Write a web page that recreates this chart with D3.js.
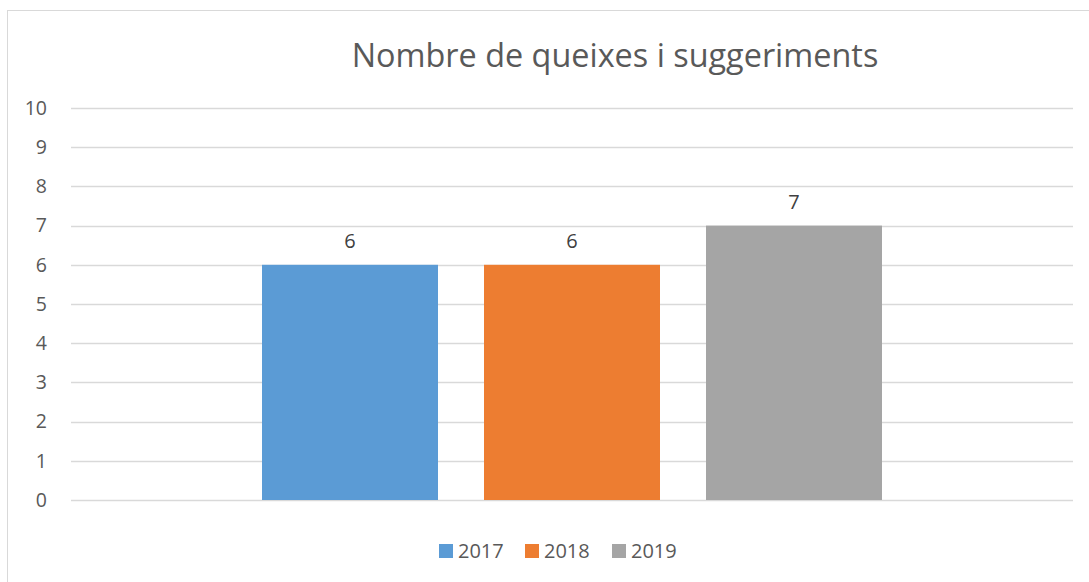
<!DOCTYPE html>
<html>
<head>
<meta charset="utf-8">
<script src="https://cdn.jsdelivr.net/npm/d3@7"></script>
<style>
  body { margin: 0; background: #fff; }
  svg { display: block; font-family: "Open Sans", sans-serif; }
</style>
</head>
<body>
<svg id="fig" width="1089" height="582"></svg>
<script>
// chart data
const chartTitle = "Nombre de queixes i suggeriments";
const seriesNames = ["2017", "2018", "2019"];
const seriesValues = [6, 6, 7];
const seriesColors = ["#5b9bd5", "#ed7d31", "#a5a5a5"];
const yTicks = [0, 1, 2, 3, 4, 5, 6, 7, 8, 9, 10];

const svg = d3.select("#fig");

// chart border
svg.append("rect")
    .attr("x", 7.5).attr("y", 10.5)
    .attr("width", 1100).attr("height", 600)
    .attr("fill", "none")
    .attr("stroke", "#d9d9d9");

const plotLeft = 71, plotRight = 1073, plotTop = 108, plotBottom = 500;

let yScale = d3.scaleLinear()
    .domain([0, 10])
    .range([plotBottom, plotTop]);

// one category with three series, bars grouped in the middle of the plot
let xScale = d3.scaleBand()
    .domain(seriesNames)
    .range([262, 882])
    .paddingInner(46 / 222)
    .paddingOuter(0);

// gridlines
svg.append("g")
    .selectAll("line")
    .data(yTicks)
    .join("line")
    .attr("x1", plotLeft).attr("x2", plotRight)
    .attr("y1", d => Math.round(yScale(d)) + 0.5)
    .attr("y2", d => Math.round(yScale(d)) + 0.5)
    .attr("stroke", "#d9d9d9")
    .attr("stroke-width", 1.3);

// y axis labels
let yAxis = d3.axisLeft(yScale).tickValues(yTicks).tickSize(0).tickPadding(0);
let yAxisSel = svg.append("g")
    .attr("transform", `translate(47,0)`)
    .call(yAxis);
yAxisSel.select(".domain").remove();
yAxisSel.selectAll("text")
    .attr("fill", "#595959")
    .style("font-size", "19.5px")
    .style("font-family", "'Open Sans', sans-serif");

// bars
svg.append("g")
    .selectAll("rect")
    .data(seriesNames)
    .join("rect")
    .attr("x", d => xScale(d))
    .attr("width", xScale.bandwidth())
    .attr("y", (d, i) => yScale(seriesValues[i]))
    .attr("height", (d, i) => yScale(0) - yScale(seriesValues[i]))
    .attr("fill", (d, i) => seriesColors[i]);

// data labels
svg.append("g")
    .selectAll("text")
    .data(seriesNames)
    .join("text")
    .attr("x", d => xScale(d) + xScale.bandwidth() / 2)
    .attr("y", (d, i) => yScale(seriesValues[i]) - 17)
    .attr("text-anchor", "middle")
    .attr("fill", "#404040")
    .style("font-size", "20px")
    .text((d, i) => seriesValues[i]);

// title
svg.append("text")
    .attr("x", 615).attr("y", 67)
    .attr("text-anchor", "middle")
    .attr("fill", "#595959")
    .style("font-size", "32.4px")
    .text(chartTitle);

// legend
const legendX = [439, 525, 612];
let legend = svg.append("g")
    .selectAll("g")
    .data(seriesNames)
    .join("g")
    .attr("transform", (d, i) => `translate(${legendX[i]},544)`);
legend.append("rect")
    .attr("width", 14).attr("height", 14)
    .attr("fill", (d, i) => seriesColors[i]);
legend.append("text")
    .attr("x", 19).attr("y", 14)
    .attr("fill", "#595959")
    .style("font-size", "20px")
    .text(d => d);
</script>
</body>
</html>
